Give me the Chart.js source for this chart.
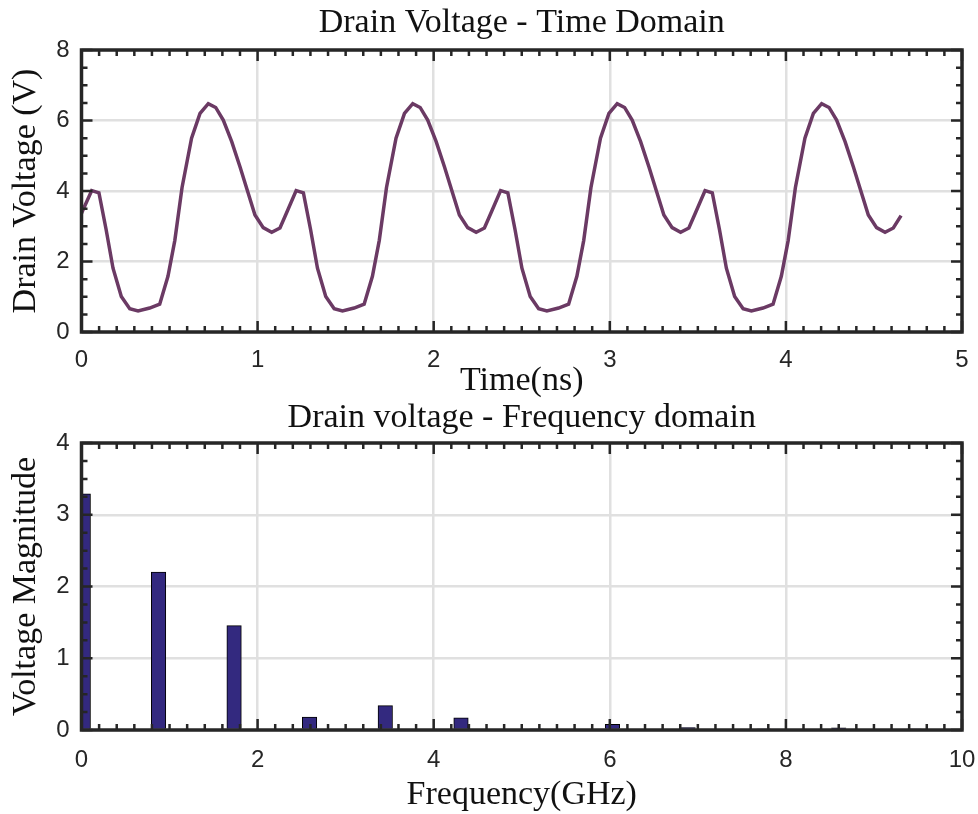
<!DOCTYPE html>
<html>
<head>
<meta charset="utf-8">
<title>Drain Voltage</title>
<script src="https://cdn.jsdelivr.net/npm/chart.js@4.4.1/dist/chart.umd.min.js"></script>
<style>
  body { margin: 0; background: #fff; }
  canvas { display: block; }
</style>
</head>
<body>
<canvas id="timeChart" width="978" height="400"></canvas>
<canvas id="freqChart" width="978" height="414"></canvas>
<script>
// Time domain samples
const timeNs = [
  0, 0.058, 0.099, 0.14, 0.179, 0.226, 0.274, 0.321, 0.387, 0.444, 0.491, 0.53, 0.571,
  0.625, 0.673, 0.72, 0.762, 0.805, 0.853, 0.9, 0.944, 0.985, 1.032, 1.08, 1.127,
  1.161, 1.219, 1.26, 1.301, 1.34, 1.387, 1.435, 1.482, 1.548, 1.605, 1.652, 1.691, 1.732,
  1.786, 1.834, 1.881, 1.923, 1.966, 2.014, 2.061, 2.105, 2.146, 2.193, 2.241, 2.288,
  2.322, 2.38, 2.421, 2.462, 2.501, 2.548, 2.596, 2.643, 2.709, 2.766, 2.813, 2.852, 2.893,
  2.947, 2.995, 3.042, 3.084, 3.127, 3.175, 3.222, 3.266, 3.307, 3.354, 3.402, 3.449,
  3.483, 3.541, 3.582, 3.623, 3.662, 3.709, 3.757, 3.804, 3.87, 3.927, 3.974, 4.013, 4.054,
  4.108, 4.156, 4.203, 4.245, 4.288, 4.336, 4.383, 4.427, 4.468, 4.515, 4.563, 4.61, 4.654
];
const drainV = [
  3.37, 4.01, 3.95, 2.9, 1.81, 1.01, 0.66, 0.6, 0.68, 0.79, 1.58, 2.6, 4.1,
  5.5, 6.2, 6.48, 6.37, 6.01, 5.4, 4.69, 3.98, 3.32, 2.96, 2.83, 2.95,
  3.34, 4.01, 3.95, 2.9, 1.81, 1.01, 0.66, 0.6, 0.68, 0.79, 1.58, 2.6, 4.1,
  5.5, 6.2, 6.48, 6.37, 6.01, 5.4, 4.69, 3.98, 3.32, 2.96, 2.83, 2.95,
  3.34, 4.01, 3.95, 2.9, 1.81, 1.01, 0.66, 0.6, 0.68, 0.79, 1.58, 2.6, 4.1,
  5.5, 6.2, 6.48, 6.37, 6.01, 5.4, 4.69, 3.98, 3.32, 2.96, 2.83, 2.95,
  3.34, 4.01, 3.95, 2.9, 1.81, 1.01, 0.66, 0.6, 0.68, 0.79, 1.58, 2.6, 4.1,
  5.5, 6.2, 6.48, 6.37, 6.01, 5.4, 4.69, 3.98, 3.32, 2.96, 2.83, 2.95, 3.3
];

// Spectrum
const freqGHz = [0.02, 0.875, 1.733, 2.59, 3.45, 4.31, 5.17, 6.03, 6.89, 7.75, 8.6, 9.46];
const magV = [3.29, 2.2, 1.455, 0.18, 0.34, 0.17, 0.01, 0.08, 0.035, 0.005, 0.03, 0.005];

// Tick labels
const timeTicks = [0, 1, 2, 3, 4, 5];
const voltTicks = [0, 2, 4, 6, 8];
const freqTicks = [0, 2, 4, 6, 8, 10];
const magTicks = [0, 1, 2, 3, 4];

const SERIF = '"Liberation Serif", "Times New Roman", serif';
const SANS = '"Liberation Sans", Arial, sans-serif';
const GRID = '#e0e0e0';
const AXIS = '#262626';

// draws the MATLAB-like box, inward ticks and the titles
const axesBox = {
  id: 'axesBox',
  afterDatasetsDraw(chart, args, o) {
    const { ctx, chartArea: a } = chart;
    const x = chart.scales.x, y = chart.scales.y;
    ctx.save();
    ctx.strokeStyle = AXIS;
    ctx.lineWidth = 2.5;
    ctx.beginPath();
    const xTick = (v, len) => {
      const p = x.getPixelForValue(v);
      ctx.moveTo(p, a.bottom); ctx.lineTo(p, a.bottom - len);
      ctx.moveTo(p, a.top); ctx.lineTo(p, a.top + len);
    };
    const yTick = (v, len) => {
      const p = y.getPixelForValue(v);
      ctx.moveTo(a.left, p); ctx.lineTo(a.left + len, p);
      ctx.moveTo(a.right, p); ctx.lineTo(a.right - len, p);
    };
    let n = Math.round((x.max - x.min) / o.xMinor);
    for (let i = 0; i <= n; i++) xTick(x.min + i * o.xMinor, 6);
    n = Math.round((y.max - y.min) / o.yMinor);
    for (let i = 0; i <= n; i++) yTick(y.min + i * o.yMinor, 6);
    x.ticks.forEach(t => xTick(t.value, 11));
    y.ticks.forEach(t => yTick(t.value, 11));
    ctx.stroke();
    ctx.lineWidth = 3.5;
    ctx.strokeRect(a.left, a.top, a.width, a.height);

    ctx.fillStyle = '#111';
    ctx.font = '34px ' + SERIF;
    ctx.textAlign = 'center';
    ctx.textBaseline = 'alphabetic';
    const cx = (a.left + a.right) / 2;
    ctx.fillText(o.title, cx, o.titleY);
    ctx.fillText(o.xLabel, cx, o.xLabelY);
    ctx.translate(o.yLabelX, (a.top + a.bottom) / 2);
    ctx.rotate(-Math.PI / 2);
    ctx.fillText(o.yLabel, 0, 0);
    ctx.restore();
  }
};

function axisOpts(ticks, pad, opts) {
  return Object.assign({
    type: 'linear',
    min: ticks[0],
    max: ticks[ticks.length - 1],
    afterBuildTicks: scale => { scale.ticks = ticks.map(v => ({ value: v })); },
    grid: { color: GRID, lineWidth: 2.5, drawTicks: false },
    border: { display: false },
    ticks: { color: AXIS, padding: pad, font: { family: SANS, size: 24 }, maxRotation: 0 }
  }, opts);
}

// fixed axis sizes so both plot areas line up
const fitX = h => s => { s.height = h; s.paddingLeft = 0; s.paddingRight = 0; };
const fitY = s => { s.width = 81.5; s.paddingTop = 0; s.paddingBottom = 0; };

const timeData = timeNs.map((t, i) => ({ x: t, y: drainV[i] }));

new Chart(document.getElementById('timeChart'), {
  type: 'line',
  data: {
    datasets: [{
      data: timeData,
      borderColor: '#6b3a64',
      borderWidth: 3.5,
      pointRadius: 0,
      tension: 0
    }]
  },
  options: {
    responsive: false,
    animation: false,
    layout: { padding: { top: 50, right: 16, left: 0, bottom: 0 } },
    plugins: {
      legend: { display: false },
      tooltip: { enabled: false },
      axesBox: {
        xMinor: 0.1, yMinor: 0.5,
        title: 'Drain Voltage - Time Domain', titleY: 32,
        xLabel: 'Time(ns)', xLabelY: 390,
        yLabel: 'Drain Voltage (V)', yLabelX: 35
      }
    },
    scales: {
      x: axisOpts(timeTicks, 14, { afterFit: fitX(68) }),
      y: axisOpts(voltTicks, 12, { afterFit: fitY })
    }
  },
  plugins: [axesBox]
});

const freqData = freqGHz.map((f, i) => ({ x: f, y: magV[i] }));

new Chart(document.getElementById('freqChart'), {
  type: 'bar',
  data: {
    datasets: [{
      data: freqData,
      backgroundColor: '#33297f',
      borderColor: '#000',
      borderWidth: 1,
      barThickness: 14.5
    }]
  },
  options: {
    responsive: false,
    animation: false,
    layout: { padding: { top: 43, right: 16, left: 0, bottom: 0 } },
    plugins: {
      legend: { display: false },
      tooltip: { enabled: false },
      axesBox: {
        xMinor: 0.2, yMinor: 0.25,
        title: 'Drain voltage - Frequency domain', titleY: 27,
        xLabel: 'Frequency(GHz)', xLabelY: 404,
        yLabel: 'Voltage Magnitude', yLabelX: 35
      }
    },
    scales: {
      x: axisOpts(freqTicks, 16, { offset: false, grid: { color: GRID, lineWidth: 2.5, drawTicks: false, offset: false }, afterFit: fitX(84) }),
      y: axisOpts(magTicks, 12, { afterFit: fitY })
    }
  },
  plugins: [axesBox]
});
</script>
</body>
</html>
